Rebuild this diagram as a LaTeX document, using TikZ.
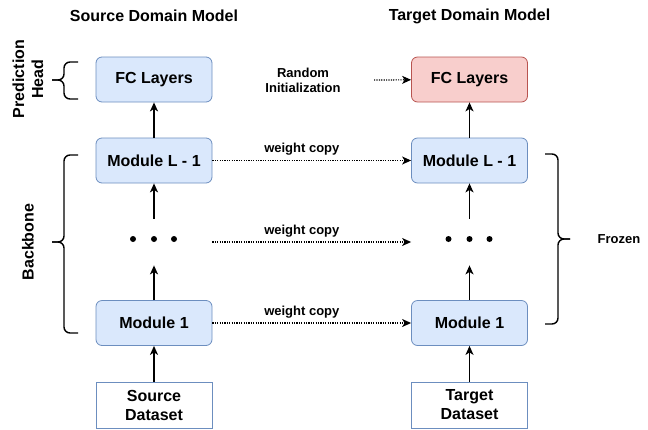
\documentclass[tikz,border=0pt]{standalone}
\usepackage{fontspec}
\setmainfont{Liberation Sans}
\usetikzlibrary{arrows.meta}

\definecolor{blueFill}{HTML}{DAE8FC}
\definecolor{blueLine}{HTML}{6C8EBF}
\definecolor{redFill}{HTML}{F8CECC}
\definecolor{redLine}{HTML}{B85450}
\newcommand{\boxfont}{\fontsize{16}{19}\selectfont\bfseries}
\newcommand{\notefont}{\fontsize{13}{15}\selectfont\bfseries}

\begin{document}
\begin{tikzpicture}[x=1pt, y=-1pt, line width=0.8pt,
    >={Stealth[length=9pt, width=8pt, inset=2.5pt]},
    block/.style={draw=blueLine, fill=blueFill, rounded corners=6pt,
      minimum width=116pt, minimum height=45pt, font=\boxfont},
    head/.style={block, draw=redLine, fill=redFill},
    data/.style={draw=blueLine, fill=white, minimum width=116pt,
      minimum height=46pt, align=center, font=\boxfont},
    dots/.style={minimum width=116pt, minimum height=46pt, inner sep=0pt},
    flow/.style={->, line width=1.5pt},
    copyline/.style={->, line width=1.2pt, dash pattern=on 1.2pt off 1.2pt},
    brace/.style={line width=1.4pt, rounded corners=6pt}]
  \useasboundingbox (0,0) rectangle (648,429);

  % column titles
  \node[font=\boxfont] (srcTitle) at (154,16) {Source Domain Model};
  \node[font=\boxfont] (tgtTitle) at (469.5,16) {Target Domain Model};

  % source column
  \node[block] (srcFC) at (154,79.5) {FC Layers};
  \node[block] (srcL) at (154,160.5) {Module L - 1};
  \node[dots] (srcDots) at (154,242) {};
  \node[block] (srcM1) at (154,323) {Module 1};
  \node[data] (srcData) at (154,405) {Source\\Dataset};

  % target column
  \node[head] (tgtFC) at (469.5,79.5) {FC Layers};
  \node[block] (tgtL) at (469.5,160.5) {Module L - 1};
  \node[dots] (tgtDots) at (469.5,242) {};
  \node[block] (tgtM1) at (469.5,323) {Module 1};
  \node[data] (tgtData) at (469.5,405) {Target\\Dataset};

  \foreach \col in {src, tgt} {
    \foreach \dx in {-21, 0, 20}
      \fill ([xshift=\dx pt, yshift=3pt]\col Dots.center) circle (3);
    \draw[flow] (\col Data) -- (\col M1);
    \draw[flow] (\col M1) -- (\col Dots);
    \draw[flow] (\col Dots) -- (\col L);
    \draw[flow] (\col L) -- (\col FC);
  }

  % weights handed over
  \node[font=\notefont, align=center] (randInit) at (303,80) {Random\\Initialization};
  \coordinate (randStart) at (374,80);
  \draw[copyline] (randStart) -- (tgtFC);
  \draw[copyline] (srcL) -- (tgtL)
    node[pos=0.45, above=1pt, font=\notefont] {weight copy};
  \draw[copyline] (srcDots) -- (tgtDots)
    node[pos=0.45, above=1pt, font=\notefont] {weight copy};
  \draw[copyline] (srcM1) -- (tgtM1)
    node[pos=0.45, above=1pt, font=\notefont] {weight copy};

  % braces
  \draw[brace] (78,62) -- (64,62) -- (64,80) -- (52,80);
  \draw[brace] (52,80) -- (64,80) -- (64,99) -- (78,99);
  \node[font=\boxfont, rotate=90, align=center] (predHead) at (28,79) {Prediction\\Head};

  \draw[brace] (78,155) -- (64,155) -- (64,242) -- (52,242);
  \draw[brace] (52,242) -- (64,242) -- (64,333) -- (78,333);
  \node[font=\boxfont, rotate=90] (backbone) at (28,242) {Backbone};

  \draw[brace] (545,154) -- (558,154) -- (558,239) -- (570,239);
  \draw[brace] (570,239) -- (558,239) -- (558,324) -- (545,324);
  \node[font=\notefont, anchor=west] (frozen) at (594,239) {Frozen};
\end{tikzpicture}
\end{document}
